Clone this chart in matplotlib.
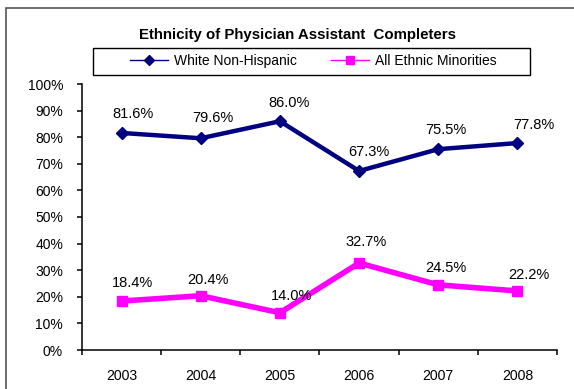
import matplotlib
matplotlib.use("Agg")
import matplotlib.pyplot as plt
from matplotlib.lines import Line2D
from matplotlib.patches import Rectangle

plt.rcParams['font.family'] = ['Liberation Sans', 'DejaVu Sans']
plt.rcParams['font.size'] = 10

# data
years = ['2003', '2004', '2005', '2006', '2007', '2008']
white = [81.6, 79.6, 86.0, 67.3, 75.5, 77.8]
minorities = [18.4, 20.4, 14.0, 32.7, 24.5, 22.2]
series_names = ['White Non-Hispanic', 'All Ethnic Minorities']
title = 'Ethnicity of Physician Assistant  Completers'

# label offsets in pixels (right, up), as placed in the original
white_off = [(11, 19), (12, 20), (9, 18), (10, 19), (8, 19), (16, 18)]
minor_off = [(11, 18), (7, 16), (12, 17), (7, 21), (8, 17), (11, 16)]

W, H = 574, 389
fig = plt.figure(figsize=(W / 100, H / 100), dpi=100)
ax = fig.add_axes([82 / W, 1 - 350 / H, (557 - 82) / W, (350 - 84) / H])

x = list(range(len(years)))
navy = '#000080'
pink = '#FF00FF'

ax.plot(x, [v / 100 for v in white], color=navy, lw=3.2, marker='D', ms=6,
        solid_joinstyle='round', zorder=3)
ax.plot(x, [v / 100 for v in minorities], color=pink, lw=4, marker='s', ms=7.5,
        solid_joinstyle='round', zorder=3)

for xi, v, off in zip(x, white, white_off):
    ax.annotate(f'{v:.1f}%', (xi, v / 100), xytext=off, textcoords='offset pixels',
                ha='center', va='center', fontsize=10.5, zorder=5)
for xi, v, off in zip(x, minorities, minor_off):
    ax.annotate(f'{v:.1f}%', (xi, v / 100), xytext=off, textcoords='offset pixels',
                ha='center', va='center', fontsize=10.5, zorder=5)

ax.set_xlim(-0.5, len(years) - 0.5)
ax.set_ylim(0, 1)
ax.set_yticks([i / 10 for i in range(11)])
ax.set_yticklabels([f'{i * 10}%' for i in range(11)])
ax.set_xticks(x)
ax.set_xticklabels(years)
ax.set_xticks([i - 0.5 for i in range(len(years) + 1)], minor=True)
ax.tick_params(axis='x', which='major', length=0, pad=14, labelsize=10.2)
ax.tick_params(axis='x', which='minor', length=3.6, width=1.1, direction='out')
ax.tick_params(axis='y', length=3.6, width=1.1, direction='out', pad=10, labelsize=10)

for s in ['top', 'right']:
    ax.spines[s].set_visible(False)
for s in ['left', 'bottom']:
    ax.spines[s].set_linewidth(1.1)

# outer chart border (clipped by the image edge on right and bottom)
fig.patches.append(Rectangle((6 / W, -0.1), 1.2, 1.1 - 8 / H, transform=fig.transFigure,
                             fill=False, lw=1.2, ec='#555555'))

fig.text(297.5 / W, 1 - 38.5 / H, title, ha='center', va='baseline',
         fontsize=10.8, fontweight='bold')

# legend box
fig.patches.append(Rectangle((93 / W, 1 - 75 / H), (530 - 93) / W, 27 / H,
                             transform=fig.transFigure, fill=False, lw=1.0, ec='black'))
handles = [Line2D([], [], color=navy, lw=1, marker='D', ms=5),
           Line2D([], [], color=pink, lw=1, marker='s', ms=6)]
fig.legend(handles, series_names, loc='center', bbox_to_anchor=(313.5 / W, 1 - 61 / H),
           ncol=2, frameon=False, fontsize=10, handlelength=2.7, handletextpad=0.45,
           columnspacing=2.5, borderpad=0, borderaxespad=0)

fig.savefig('out.png', dpi=100)
